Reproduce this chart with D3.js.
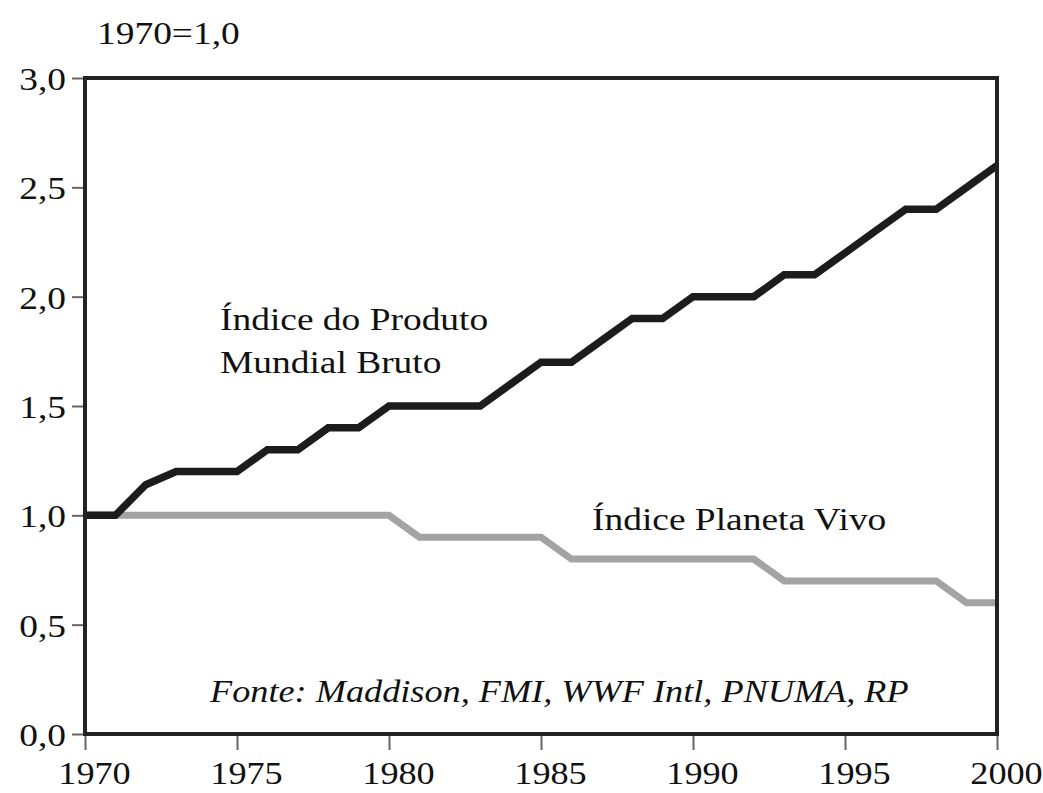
<!DOCTYPE html>
<html>
<head>
<meta charset="utf-8">
<script src="https://cdnjs.cloudflare.com/ajax/libs/d3/7.8.5/d3.min.js"></script>
<style>
  body { margin: 0; background: #fff; }
  text { font-family: "Liberation Serif", "Times New Roman", serif; fill: #111; }
  .tick line { stroke: #666; stroke-width: 2; }
  path.domain { display: none; }
</style>
</head>
<body>
<svg id="chart" width="1043" height="793"></svg>
<script>
// data (index, 1970 = 1,0)
var years = d3.range(1970, 2001);
var produtoMundial = [1.0, 1.0, 1.14, 1.2, 1.2, 1.2, 1.3, 1.3, 1.4, 1.4,
                      1.5, 1.5, 1.5, 1.5, 1.6, 1.7, 1.7, 1.8, 1.9, 1.9,
                      2.0, 2.0, 2.0, 2.1, 2.1, 2.2, 2.3, 2.4, 2.4, 2.5, 2.6];
var planetaVivo = [1.0, 1.0, 1.0, 1.0, 1.0, 1.0, 1.0, 1.0, 1.0, 1.0,
                   1.0, 0.9, 0.9, 0.9, 0.9, 0.9, 0.8, 0.8, 0.8, 0.8,
                   0.8, 0.8, 0.8, 0.7, 0.7, 0.7, 0.7, 0.7, 0.7, 0.6, 0.6];
var xTicks = [1970, 1975, 1980, 1985, 1990, 1995, 2000];
var yTicks = [0, 0.5, 1.0, 1.5, 2.0, 2.5, 3.0];

var margin = { left: 85, top: 78 };
var width = 912, height = 656;
var stretch = 1.17; // text in the original is a bit wide

var svg = d3.select("#chart");
var g = svg.append("g").attr("transform", `translate(${margin.left},${margin.top})`);

var x = d3.scaleLinear().domain([1970, 2000]).range([0, width]);
var y = d3.scaleLinear().domain([0, 3]).range([height, 0]);

var xAxis = d3.axisBottom(x).tickValues(xTicks).tickSize(16).tickFormat(d3.format("d"));
var yAxis = d3.axisLeft(y).tickValues(yTicks).tickSize(13)
  .tickFormat(d => d.toFixed(1).replace(".", ","));

g.append("g").attr("transform", `translate(0,${height})`).call(xAxis)
  .selectAll("text")
    .attr("y", 0).attr("dy", 0)
    .attr("transform", `translate(9,50) scale(${stretch},1)`)
    .style("font-size", "31px");

g.append("g").call(yAxis)
  .selectAll("text")
    .attr("x", 0).attr("dy", "0.36em")
    .attr("transform", `translate(-19,0) scale(${stretch},1)`)
    .style("font-size", "32px");

// the two series
var line = d3.line()
  .x((d, i) => x(years[i]))
  .y(d => y(d));

g.append("path")
  .attr("d", line(planetaVivo))
  .attr("fill", "none")
  .attr("stroke", "#a3a3a3")
  .attr("stroke-width", 7);

g.append("path")
  .attr("d", line(produtoMundial))
  .attr("fill", "none")
  .attr("stroke", "#1c1c1c")
  .attr("stroke-width", 7.5);

// frame
g.append("rect")
  .attr("width", width).attr("height", height)
  .attr("fill", "none")
  .attr("stroke", "#222")
  .attr("stroke-width", 4);

function label(txt, px, py, opts) {
  opts = opts || {};
  svg.append("text")
    .attr("transform", `translate(${px},${py}) scale(${stretch},1)`)
    .style("font-size", (opts.size || 32) + "px")
    .style("font-style", opts.italic ? "italic" : "normal")
    .text(txt);
}

label("1970=1,0", 97, 44);
label("Índice do Produto", 220, 330);
label("Mundial Bruto", 220, 373);
label("Índice Planeta Vivo", 592, 530);
label("Fonte: Maddison, FMI, WWF Intl, PNUMA, RP", 210, 702, { italic: true, size: 31 });
</script>
</body>
</html>
